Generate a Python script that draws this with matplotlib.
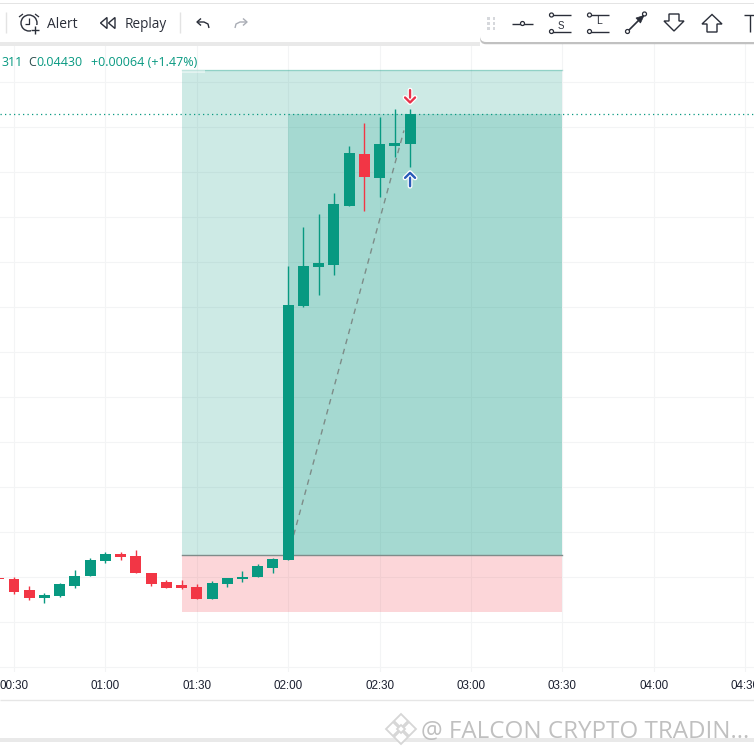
import numpy as np
import matplotlib
matplotlib.use("Agg")
import matplotlib.pyplot as plt
import matplotlib.patheffects as pe
from matplotlib.patches import Rectangle, FancyBboxPatch, Circle, Polygon

GREEN = "#089981"
RED = "#F23645"

# candle data, minutes after midnight, 5 minute bars
times = [25, 30, 35, 40, 45, 50, 55, 60, 65, 70, 75, 80, 85, 90, 95, 100, 105, 110, 115,
         120, 125, 130, 135, 140, 145, 150, 155, 160]
opens = [.03440, .03438, .03414, .03397, .03402, .03423, .03444, .03476, .03491, .03487, .03451, .03431, .03425, .03421,
         .03395, .03427, .03438, .03442, .03461, .03479, .04020, .04104, .04108, .04234, .04345, .04293, .04362, .04366]
highs = [.03440, .03442, .03423, .03408, .03429, .03457, .03483, .03495, .03495, .03500, .03451, .03436, .03436, .03427,
         .03434, .03440, .03455, .03470, .03483, .04106, .04189, .04217, .04261, .04362, .04411, .04424, .04441, .04441]
lows = [.03438, .03407, .03394, .03387, .03399, .03419, .03444, .03472, .03478, .03451, .03423, .03419, .03417, .03395,
        .03395, .03421, .03431, .03442, .03451, .03479, .04018, .04044, .04087, .04234, .04223, .04253, .04338, .04317]
closes = [.03438, .03410, .03397, .03404, .03427, .03444, .03478, .03491, .03485, .03451, .03427, .03419, .03419, .03395,
          .03429, .03440, .03442, .03466, .03481, .04023, .04106, .04112, .04238, .04347, .04296, .04366, .04368, .04430]

tick_times = [30, 60, 90, 120, 150, 180, 210, 240, 270]
tick_labels = ["00:30", "01:00", "01:30", "02:00", "02:30", "03:00", "03:30", "04:00", "04:30"]
price_grid = [.04498, .04402, .04306, .04210, .04114, .04018, .03922, .03826, .03730, .03634, .03538, .03442, .03346, .03250]

# long position tool
pos_start, pos_entry_time, pos_end = 85, 120, 210
entry, target, stop = .03489, .04524, .03368
last_close = .04430
signal_end_time, signal_end_price = 158, .04395

fig = plt.figure(figsize=(7.54, 7.54), dpi=100, facecolor="white")
ax = fig.add_axes([0, (754 - 672) / 754, 1, (672 - 44) / 754])
ax.set_xlim(25.4, 272.9)
ax.set_ylim(.032398, .045793)
for s in ax.spines.values():
    s.set_visible(False)
ax.set_yticks(price_grid)
ax.tick_params(axis="y", left=False, labelleft=False)
ax.set_xticks(tick_times)
ax.set_xticklabels(tick_labels, family="Liberation Sans", fontsize=8.4, color="#1c2030")
ax.tick_params(axis="x", length=0, pad=5.6)
ax.grid(True, color="#f3f4f5", lw=.8)
ax.set_axisbelow(True)

# position zones
ax.add_patch(Rectangle((pos_start, entry), pos_end - pos_start, target - entry, fc=GREEN, alpha=.2, ec="none", zorder=1.5))
ax.add_patch(Rectangle((pos_entry_time, entry), pos_end - pos_entry_time, last_close - entry, fc=GREEN, alpha=.2, ec="none", zorder=1.6))
ax.add_patch(Rectangle((pos_start, stop), pos_end - pos_start, entry - stop, fc=RED, alpha=.2, ec="none", zorder=1.5))
ax.plot([pos_start, pos_end], [target, target], color=GREEN, alpha=.3, lw=1, zorder=1.7)
ax.plot([pos_start, pos_end], [entry, entry], color="#7f8c8a", lw=1, zorder=1.7)

ax.axhline(last_close, color=GREEN, lw=.9, ls=(0, (1, 2.6)), zorder=2)
ax.plot([pos_entry_time, signal_end_time], [entry, signal_end_price], color="#7d8c88", lw=1, ls=(0, (4, 3.5)), zorder=2.5)

for t, o, h, l, c in zip(times, opens, highs, lows, closes):
    col = GREEN if c >= o else RED
    ax.plot([t, t], [l, h], color=col, lw=1, zorder=3, solid_capstyle="butt")
    ax.add_patch(Rectangle((t - 1.8, min(o, c)), 3.6, abs(c - o), fc=col, ec="none", zorder=3))

# entry and exit markers
halo = [pe.withStroke(linewidth=3.5, foreground="white")]
down = ax.annotate("", xy=(160, .04451), xytext=(160, .04481),
                   arrowprops=dict(arrowstyle="->,head_width=.36,head_length=.36", color="#e8314a", lw=1.7, shrinkA=0, shrinkB=0), zorder=5)
up = ax.annotate("", xy=(160, .04308), xytext=(160, .04276),
                 arrowprops=dict(arrowstyle="->,head_width=.36,head_length=.36", color="#2a5bb8", lw=1.7, shrinkA=0, shrinkB=0), zorder=5)
down.arrow_patch.set_path_effects(halo)
up.arrow_patch.set_path_effects(halo)

# chrome drawn in pixel coordinates
ui = fig.add_axes([0, 0, 1, 1], facecolor="none")
ui.set_xlim(0, 754)
ui.set_ylim(754, 0)
ui.axis("off")
UI_FONT = "Open Sans"
INK = "#2a2e39"


def seg(xs, ys, color=INK, lw=1.0, **kw):
    ui.plot(xs, ys, color=color, lw=lw, solid_capstyle="butt", **kw)


def ring(x, y, r=2.0, color=INK, lw=.9):
    ui.add_patch(Circle((x, y), r, fc="white", ec=color, lw=lw, zorder=6))


def diamond(x, y, r, lw=1.3):
    ui.add_patch(Polygon([[x, y - r], [x + r, y], [x, y + r], [x - r, y]], fc="white", ec="#d6d6d6", lw=lw, zorder=5))


ui.add_patch(Rectangle((181, 70), 24, 3, fc="white", alpha=.45, ec="none"))

# top bars
ui.add_patch(Rectangle((0, 0), 754, 44, fc="white", ec="none", zorder=.5))
ui.add_patch(Rectangle((0, 42), 480, 4, fc="#e9e9e9", ec="none", zorder=.6))
ui.add_patch(FancyBboxPatch((480, -20), 320, 62, boxstyle="round,pad=0,rounding_size=6", fc="white", ec="none", zorder=.9,
                            path_effects=[pe.SimplePatchShadow(offset=(0, -1.6), shadow_rgbFace="#8f8f8f", alpha=.55), pe.Normal()]))
ui.add_patch(Rectangle((0, 3), 754, 1, fc="#e4e4e4", ec="none", zorder=1))
seg([5.5, 5.5], [12, 33], color="#e3e3e3")
seg([179.5, 179.5], [12, 33], color="#e3e3e3")

# alert clock
ui.add_patch(Circle((29, 23), 8, fc="none", ec=INK, lw=1))
seg([29, 29, 25], [18, 24, 24], lw=.9)
seg([19, 23], [17, 14], lw=.9)
seg([39, 35], [17, 14], lw=.9)
ui.add_patch(Rectangle((31, 25), 9, 9, fc="white", ec="none", zorder=5))
seg([34.5, 34.5], [26, 33.5], lw=1, zorder=6)
seg([30.5, 38.5], [30, 30], lw=1, zorder=6)
ui.text(47, 24.5, "Alert", family=UI_FONT, fontsize=10, color=INK, va="center")

# replay
ui.add_patch(Polygon([[107, 17.5], [107, 28.5], [100.5, 23]], fc="none", ec=INK, lw=1))
ui.add_patch(Polygon([[115, 17.5], [115, 28.5], [108.5, 23]], fc="none", ec=INK, lw=1))
ui.text(125, 24.5, "Replay", family=UI_FONT, fontsize=9.8, color=INK, va="center")

# undo, redo
seg([209, 208, 204, 197], [28, 24, 22, 22], lw=1)
seg([201, 197, 201], [18.5, 22, 25.5], lw=1)
seg([235, 236, 240, 247], [28, 24, 22, 22], color="#a9adb5", lw=1)
seg([243, 247, 243], [18.5, 22, 25.5], color="#a9adb5", lw=1)

# floating drawing toolbar
for dx in (488, 493.5):
    for dy in (18, 23, 28):
        ui.add_patch(Rectangle((dx - 1, dy - 1), 2.5, 2.5, fc="#d6d8dc", ec="none", zorder=5))
seg([512, 533], [23.5, 23.5])
ring(522.5, 23.5)
seg([551, 571], [15, 15])
seg([551, 571], [31.5, 31.5])
ring(551.5, 15)
ring(551.5, 31.5)
ui.text(561, 26, "S", family="Liberation Sans", fontsize=7, color=INK, ha="center", va="center")
seg([589, 609], [15, 15])
seg([589, 609], [31.5, 31.5])
ring(589.5, 15)
ring(589.5, 31.5)
ui.text(599, 21.5, "L", family="Liberation Sans", fontsize=7.5, color=INK, ha="center", va="center")
seg([628, 644], [31, 15], lw=1.2)
ring(627.5, 31.5)
ring(644.5, 14)
ui.add_patch(Polygon([[644, 15.5], [636, 18], [640.5, 23]], fc=INK, ec=INK, lw=.5, zorder=6))
ui.add_patch(Polygon([[669, 14], [679, 14], [679, 21], [684, 21], [674, 31], [664, 21], [669, 21]], fc="white", ec=INK, lw=1, zorder=6))
ui.add_patch(Polygon([[707, 32], [717, 32], [717, 24], [722, 24], [712, 14.5], [702, 24], [707, 24]], fc="white", ec=INK, lw=1, zorder=6))
seg([744, 754], [14.5, 14.5])
seg([749.5, 749.5], [14.5, 32])

# header readout, split so the C can be darker
ui.text(1, 63, "311", family=UI_FONT, fontsize=9, color=GREEN, va="center")
ui.text(28, 63, "C", family=UI_FONT, fontsize=9, color="#2a4a4a", va="center")
ui.text(36, 63, "0.04430", family=UI_FONT, fontsize=9, color=GREEN, va="center")
ui.text(91, 63, "+0.00064 (+1.47%)", family=UI_FONT, fontsize=9, color=GREEN, va="center")

# footer
seg([0, 754], [699.5, 699.5], color="#e6e6e6")
ui.add_patch(Rectangle((0, 738), 754, 4, fc="#e9e9e9", ec="none"))
WM = "#c0c0c0"
diamond(401, 721, 7)
diamond(401, 737, 7)
diamond(393, 729, 7)
diamond(409, 729, 7)
diamond(401, 729, 4)
ui.text(421, 732, "@ FALCON CRYPTO TRADIN...", family=UI_FONT, fontsize=17.4, color=WM, va="center", zorder=6)

fig.savefig("out.png", dpi=100)
